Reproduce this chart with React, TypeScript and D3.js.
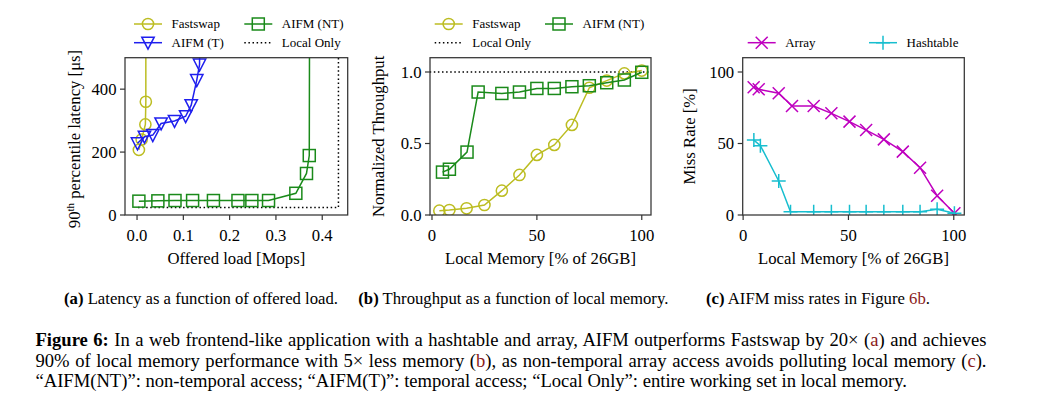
import React, { useLayoutEffect, useRef } from "react";
import * as d3 from "d3";

const FONT = "'Liberation Serif', 'Times New Roman', Times, serif";

// ---------- Panel (a): latency vs offered load ----------
const aFastswapLoad = [0.004, 0.010, 0.018, 0.019, 0.019];
const aFastswapLat = [207, 240, 288, 360, 900];
const aAifmTLoad = [0.001, 0.016, 0.034, 0.052, 0.081, 0.105, 0.117, 0.129, 0.135, 0.137];
const aAifmTLat = [228, 249, 254, 291, 299, 314, 349, 429, 478, 900];
const aAifmNTLoad = [0.004, 0.045, 0.082, 0.120, 0.165, 0.218, 0.248, 0.284, 0.343, 0.366, 0.372, 0.373];
const aAifmNTLat = [44, 45, 46, 46, 46, 46, 46, 46, 69, 132, 189, 900];
const aLocalLoad = [0.002, 0.435, 0.435];
const aLocalLat = [24, 24, 900];
const aXTicks = [0.0, 0.1, 0.2, 0.3, 0.4];
const aYTicks = [0, 200, 400];

// ---------- Panel (b): throughput vs local memory ----------
const bFastswapMem = [3.5, 8.3, 16.5, 25, 33.3, 41.7, 50, 58.3, 66.7, 75, 83.3, 91.7, 100];
const bFastswapTput = [0.03, 0.035, 0.047, 0.07, 0.17, 0.28, 0.42, 0.49, 0.63, 0.89, 0.94, 0.99, 1.01];
const bAifmNTMem = [5, 8.3, 16.7, 22, 33.3, 41.7, 50, 58.3, 66.7, 75, 83.3, 91.7, 100];
const bAifmNTTput = [0.30, 0.32, 0.44, 0.86, 0.85, 0.86, 0.885, 0.885, 0.897, 0.904, 0.925, 0.944, 0.998];
const bLocalMem = [-5, 110];
const bLocalTput = [1.0, 1.0];
const bXTicks = [0, 50, 100];
const bYTicks = [0.0, 0.5, 1.0];

// ---------- Panel (c): miss rates ----------
const cArrayMem = [5.0, 7.4, 16.9, 23.2, 33.5, 41.9, 50.5, 58.4, 66.8, 75.8, 84.0, 92.1, 100.3];
const cArrayMiss = [89.3, 87.9, 85.1, 76.2, 76.2, 71.1, 65.3, 59.4, 52.9, 44.3, 33.1, 13.5, 1.2];
const cHashMem = [5.1, 8.2, 16.9, 22.5, 33.5, 41.9, 50.5, 58.4, 66.8, 75.8, 84.0, 92.1, 100.3];
const cHashMiss = [52.4, 48.5, 23.8, 2.3, 2.3, 2.3, 2.3, 2.3, 2.3, 2.3, 2.3, 4.0, 1.2];
const cXTicks = [0, 50, 100];
const cYTicks = [0, 50, 100];

const C_FAST = "#bcbd22";
const C_NT = "#1a8a1a";
const C_T = "#1f1fee";
const C_ARR = "#bf00bf";
const C_HASH = "#17becf";
const C_REF = "#8b1a1a";
const SPINE = "#333333";

type MarkerType = "circle" | "square" | "tri" | "x" | "plus" | "none";

function Marker({ type, x, y, color }: { type: MarkerType; x: number; y: number; color: string }) {
  const sw = 1.5;
  if (type === "circle") return <circle cx={x} cy={y} r={5.6} fill="none" stroke={color} strokeWidth={sw} />;
  if (type === "square") return <rect x={x - 6} y={y - 6} width={12} height={12} fill="none" stroke={color} strokeWidth={sw} />;
  if (type === "tri")
    return <path d={`M${x - 6.2},${y - 5.5}L${x + 6.2},${y - 5.5}L${x},${y + 6.5}Z`} fill="none" stroke={color} strokeWidth={sw} />;
  if (type === "x")
    return <path d={`M${x - 6},${y - 6}L${x + 6},${y + 6}M${x - 6},${y + 6}L${x + 6},${y - 6}`} fill="none" stroke={color} strokeWidth={sw} />;
  if (type === "plus")
    return <path d={`M${x - 7},${y}L${x + 7},${y}M${x},${y - 7}L${x},${y + 7}`} fill="none" stroke={color} strokeWidth={sw} />;
  return null;
}

type Series = { xs: number[]; ys: number[]; color: string; marker: MarkerType; dotted?: boolean };
type LegendItem = { x: number; y: number; label: string; color: string; marker: MarkerType; dotted?: boolean };

const TICK_FS = 16.7;
const LEG_FS = 13;

function Panel(props: {
  id: string;
  left: number; right: number; top: number; bottom: number;
  xDomain: [number, number]; yDomain: [number, number];
  xTicks: number[]; yTicks: number[];
  xFmt: (v: number) => string; yFmt: (v: number) => string;
  series: Series[];
  xLabel: string;
  yLabel: React.ReactNode;
  yLabelX: number; yLabelY: number;
  legend: LegendItem[];
}) {
  const { id, left, right, top, bottom } = props;
  const x = d3.scaleLinear().domain(props.xDomain).range([left, right]);
  const y = d3.scaleLinear().domain(props.yDomain).range([bottom, top]);
  const line = d3.line<[number, number]>().x((d) => x(d[0])).y((d) => y(d[1]));
  const dash = "1.5 2.6";
  return (
    <g>
      <defs>
        <clipPath id={`clip-${id}`}>
          <rect x={left} y={top} width={right - left} height={bottom - top} />
        </clipPath>
      </defs>
      <g clipPath={`url(#clip-${id})`}>
        {props.series.map((s, i) => {
          const pts = s.xs.map((v, k) => [v, s.ys[k]] as [number, number]);
          return (
            <g key={i}>
              <path d={line(pts) || ""} fill="none" stroke={s.color} strokeWidth={1.5}
                strokeDasharray={s.dotted ? dash : undefined} />
              {s.marker !== "none" && pts.map((p, k) => (
                <Marker key={k} type={s.marker} x={x(p[0])} y={y(p[1])} color={s.color} />
              ))}
            </g>
          );
        })}
      </g>
      <rect x={left} y={top} width={right - left} height={bottom - top} fill="none" stroke={SPINE} strokeWidth={1.25} />
      {props.xTicks.map((t) => (
        <g key={`xt${t}`}>
          <line x1={x(t)} x2={x(t)} y1={bottom} y2={bottom + 5} stroke={SPINE} strokeWidth={1.2} />
          <text x={x(t)} y={bottom + 26} textAnchor="middle" fontSize={TICK_FS}>{props.xFmt(t)}</text>
        </g>
      ))}
      {props.yTicks.map((t) => (
        <g key={`yt${t}`}>
          <line x1={left - 5} x2={left} y1={y(t)} y2={y(t)} stroke={SPINE} strokeWidth={1.2} />
          <text x={left - 8.5} y={y(t)} dy="0.34em" textAnchor="end" fontSize={TICK_FS}>{props.yFmt(t)}</text>
        </g>
      ))}
      <text x={(left + right) / 2} y={bottom + 49} textAnchor="middle" fontSize={TICK_FS}>{props.xLabel}</text>
      <text transform={`translate(${props.yLabelX},${props.yLabelY}) rotate(-90)`} textAnchor="middle" dy="0.34em" fontSize={TICK_FS}>
        {props.yLabel}
      </text>
      {props.legend.map((l, i) => (
        <g key={`lg${i}`}>
          <line x1={l.x} x2={l.x + 28} y1={l.y} y2={l.y} stroke={l.color} strokeWidth={1.5}
            strokeDasharray={l.dotted ? dash : undefined} />
          <Marker type={l.marker} x={l.x + 14} y={l.y} color={l.color} />
          <text x={l.x + 37.5} y={l.y} dy="0.34em" fontSize={LEG_FS}>{l.label}</text>
        </g>
      ))}
    </g>
  );
}

const CAP_FS = 18.6;
const SUB_FS = 16.7;
const CAP_X = 35.5;
const CAP_W = 951;

export default function App() {
  const l1 = useRef<SVGTextElement>(null);
  const l2 = useRef<SVGTextElement>(null);
  useLayoutEffect(() => {
    [l1.current, l2.current].forEach((el) => {
      if (!el) return;
      el.setAttribute("word-spacing", "0");
      const natural = el.getComputedTextLength();
      const spaces = (el.textContent || "").split(" ").length - 1;
      if (spaces > 0) el.setAttribute("word-spacing", String((CAP_W - natural) / spaces));
    });
  }, []);

  const f1 = (v: number) => v.toFixed(1);
  const f0 = (v: number) => String(v);

  return (
    <svg width={1054} height={407} style={{ display: "block", position: "absolute", left: 0, top: 0, fontFamily: FONT }}>
      <rect width={1054} height={407} fill="#fff" />
      <Panel
        id="a" left={125} right={347.7} top={57.7} bottom={215}
        xDomain={[-0.026, 0.455]} yDomain={[0, 500]}
        xTicks={aXTicks} yTicks={aYTicks} xFmt={f1} yFmt={f0}
        series={[
          { xs: aLocalLoad, ys: aLocalLat, color: "#000", marker: "none", dotted: true },
          { xs: aAifmNTLoad, ys: aAifmNTLat, color: C_NT, marker: "square" },
          { xs: aFastswapLoad, ys: aFastswapLat, color: C_FAST, marker: "circle" },
          { xs: aAifmTLoad, ys: aAifmTLat, color: C_T, marker: "tri" },
        ]}
        xLabel="Offered load [Mops]"
        yLabel={<><tspan>90</tspan><tspan fontSize={11} dy="-6">th</tspan><tspan dy="6"> percentile latency [μs]</tspan></>}
        yLabelX={74} yLabelY={139}
        legend={[
          { x: 134, y: 24, label: "Fastswap", color: C_FAST, marker: "circle" },
          { x: 244.3, y: 24, label: "AIFM (NT)", color: C_NT, marker: "square" },
          { x: 134, y: 42.7, label: "AIFM (T)", color: C_T, marker: "tri" },
          { x: 244.3, y: 42.7, label: "Local Only", color: "#000", marker: "none", dotted: true },
        ]}
      />
      <Panel
        id="b" left={430} right={651} top={57.7} bottom={215}
        xDomain={[-0.95, 104.4]} yDomain={[0, 1.1]}
        xTicks={bXTicks} yTicks={bYTicks} xFmt={f0} yFmt={f1}
        series={[
          { xs: bLocalMem, ys: bLocalTput, color: "#000", marker: "none", dotted: true },
          { xs: bFastswapMem, ys: bFastswapTput, color: C_FAST, marker: "circle" },
          { xs: bAifmNTMem, ys: bAifmNTTput, color: C_NT, marker: "square" },
        ]}
        xLabel="Local Memory [% of 26GB]"
        yLabel="Normalized Throughput"
        yLabelX={378} yLabelY={136.4}
        legend={[
          { x: 434.7, y: 24, label: "Fastswap", color: C_FAST, marker: "circle" },
          { x: 545, y: 24, label: "AIFM (NT)", color: C_NT, marker: "square" },
          { x: 434.7, y: 42.7, label: "Local Only", color: "#000", marker: "none", dotted: true },
        ]}
      />
      <Panel
        id="c" left={742.7} right={964.3} top={57.7} bottom={215}
        xDomain={[-0.2, 105]} yDomain={[0, 110]}
        xTicks={cXTicks} yTicks={cYTicks} xFmt={f0} yFmt={f0}
        series={[
          { xs: cArrayMem, ys: cArrayMiss, color: C_ARR, marker: "x" },
          { xs: cHashMem, ys: cHashMiss, color: C_HASH, marker: "plus" },
        ]}
        xLabel="Local Memory [% of 26GB]"
        yLabel="Miss Rate [%]"
        yLabelX={689} yLabelY={136.4}
        legend={[
          { x: 747.7, y: 42.7, label: "Array", color: C_ARR, marker: "x" },
          { x: 869, y: 42.7, label: "Hashtable", color: C_HASH, marker: "plus" },
        ]}
      />

      <g fontSize={SUB_FS}>
        <text x={64} y={304}><tspan fontWeight="bold">(a)</tspan> Latency as a function of offered load.</text>
        <text x={358.3} y={304}><tspan fontWeight="bold">(b)</tspan> Throughput as a function of local memory.</text>
        <text x={706} y={304}><tspan fontWeight="bold">(c)</tspan> AIFM miss rates in Figure <tspan fill={C_REF}>6b</tspan>.</text>
      </g>

      <g fontSize={CAP_FS}>
        <text ref={l1} x={CAP_X} y={346}>
          <tspan fontWeight="bold">Figure 6:</tspan> In a web frontend-like application with a hashtable and array, AIFM outperforms Fastswap by 20× (<tspan fill={C_REF}>a</tspan>) and achieves
        </text>
        <text ref={l2} x={CAP_X} y={366.7}>
          90% of local memory performance with 5× less memory (<tspan fill={C_REF}>b</tspan>), as non-temporal array access avoids polluting local memory (<tspan fill={C_REF}>c</tspan>).
        </text>
        <text x={CAP_X} y={387}>
          “AIFM(NT)”: non-temporal access; “AIFM(T)”: temporal access; “Local Only”: entire working set in local memory.
        </text>
      </g>
    </svg>
  );
}
